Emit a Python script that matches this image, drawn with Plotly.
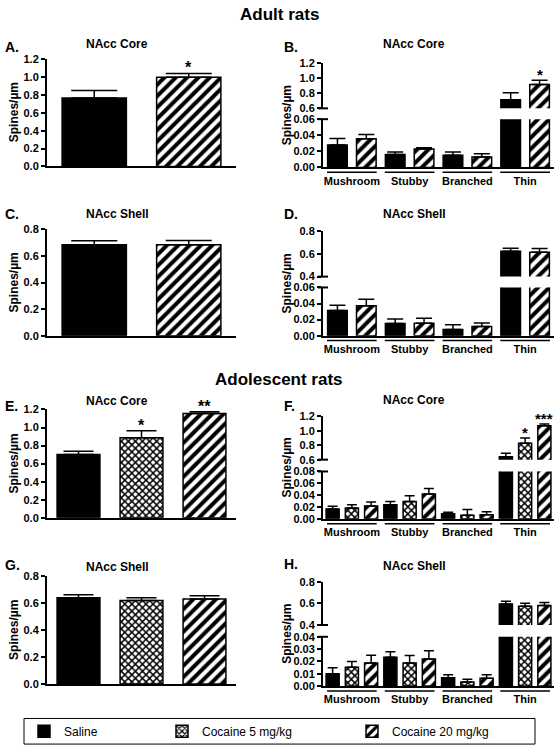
import plotly.graph_objects as go

# ---------------- data ----------------
spine_types = ["Mushroom", "Stubby", "Branched", "Thin"]
adult_groups = ["Saline", "Cocaine 20 mg/kg"]
adol_groups = ["Saline", "Cocaine 5 mg/kg", "Cocaine 20 mg/kg"]

# A. Adult NAcc Core (total)
A_mean = [0.765, 0.998]
A_sem = [0.085, 0.042]
A_sig = ["", "*"]
# C. Adult NAcc Shell (total)
C_mean = [0.685, 0.684]
C_sem = [0.030, 0.033]
C_sig = ["", ""]
# E. Adolescent NAcc Core (total)
E_mean = [0.702, 0.887, 1.155]
E_sem = [0.036, 0.077, 0.020]
E_sig = ["", "*", "**"]
# G. Adolescent NAcc Shell (total)
G_mean = [0.638, 0.617, 0.628]
G_sem = [0.022, 0.020, 0.025]
G_sig = ["", "", ""]

# B. Adult NAcc Core by spine type
B_saline = [0.028, 0.016, 0.015, 0.714]
B_saline_sem = [0.008, 0.003, 0.004, 0.092]
B_coc20 = [0.0355, 0.0229, 0.013, 0.915]
B_coc20_sem = [0.0055, 0.0016, 0.004, 0.057]
B_sig = {"Cocaine 20 mg/kg": ["", "", "", "*"]}
# D. Adult NAcc Shell by spine type
D_saline = [0.0314, 0.0151, 0.0078, 0.625]
D_saline_sem = [0.0066, 0.0057, 0.0057, 0.026]
D_coc20 = [0.0371, 0.0155, 0.0114, 0.616]
D_coc20_sem = [0.0082, 0.0061, 0.0045, 0.032]
# F. Adolescent NAcc Core by spine type
F_saline = [0.0166, 0.0237, 0.0083, 0.642]
F_saline_sem = [0.0044, 0.0053, 0.0027, 0.046]
F_coc5 = [0.018, 0.029, 0.006, 0.826]
F_coc5_sem = [0.0057, 0.010, 0.0094, 0.074]
F_coc20 = [0.0215, 0.0419, 0.0066, 1.071]
F_coc20_sem = [0.0066, 0.0091, 0.005, 0.023]
F_sig = {"Cocaine 5 mg/kg": ["", "", "", "*"], "Cocaine 20 mg/kg": ["", "", "", "***"]}
# H. Adolescent NAcc Shell by spine type
H_saline = [0.0099, 0.0234, 0.0067, 0.595]
H_saline_sem = [0.0049, 0.0045, 0.0024, 0.025]
H_coc5 = [0.0153, 0.0188, 0.0032, 0.574]
H_coc5_sem = [0.0047, 0.0059, 0.0022, 0.027]
H_coc20 = [0.0188, 0.022, 0.0064, 0.580]
H_coc20_sem = [0.0062, 0.0067, 0.0027, 0.027]

# tick labels
total_core_ticks = [0.0, 0.2, 0.4, 0.6, 0.8, 1.0, 1.2]
total_shell_ticks = [0.0, 0.2, 0.4, 0.6, 0.8]
B_low_ticks = [0.00, 0.02, 0.04, 0.06]
B_up_ticks = [0.6, 0.8, 1.0, 1.2]
D_low_ticks = [0.00, 0.02, 0.04, 0.06]
D_up_ticks = [0.4, 0.6, 0.8]
F_low_ticks = [0.00, 0.02, 0.04, 0.06, 0.08]
F_up_ticks = [0.6, 0.8, 1.0, 1.2]
H_low_ticks = [0.00, 0.01, 0.02, 0.03, 0.04]
H_up_ticks = [0.4, 0.6, 0.8]

# ---------------- style ----------------
W, H = 558, 754
FONT = "Liberation Sans, Arial, Helvetica, sans-serif"
TICKFONT = dict(family=FONT, size=11, color="black", weight="bold")


def px(x):
    return x / W


def py(y):
    return 1 - y / H


STYLE = {
    "Saline": dict(color="black", line=dict(color="black", width=1.5)),
    "Cocaine 5 mg/kg": dict(color="white", line=dict(color="black", width=1.5),
                            pattern=dict(shape="x", fillmode="replace", fgcolor="black",
                                         bgcolor="white", size=5, solidity=0.5)),
    "Cocaine 20 mg/kg": dict(color="white", line=dict(color="black", width=1.5),
                             pattern=dict(shape="/", fillmode="replace", fgcolor="black",
                                          bgcolor="white", size=8, solidity=0.5)),
}
LEGEND_OF = {"Saline": "legend", "Cocaine 5 mg/kg": "legend2", "Cocaine 20 mg/kg": "legend3"}

fig = go.Figure()
layout_axes = {}
annotations = []
shapes = []


def axkey(letter, n):
    return f"{letter}axis" + ("" if n == 1 else str(n))


def ref(letter, n):
    return letter + ("" if n == 1 else str(n))


def yaxis_dict(dom_top, dom_bot, ticks, fmt, xa):
    return dict(domain=[py(dom_bot), py(dom_top)], anchor=xa, range=[ticks[0], ticks[-1]],
                tickvals=ticks, tickformat=fmt, showline=True, linewidth=2, linecolor="black",
                ticks="outside", ticklen=4, tickwidth=2, tickcolor="black", showgrid=False,
                zeroline=False, tickfont=TICKFONT, fixedrange=True)


def single_panel(xn, yn, groups, means, sems, sig, top, bot, ticks, cap):
    xa, ya = ref("x", xn), ref("y", yn)
    for g, m, s, st in zip(groups, means, sems, sig):
        fig.add_trace(go.Bar(
            x=[g], y=[m], xaxis=xa, yaxis=ya, offsetgroup="one", name=g, showlegend=False,
            marker=STYLE[g],
            error_y=dict(type="data", array=[s], arrayminus=[0], symmetric=False,
                         color="black", thickness=1.5, width=cap)))
        if st:
            annotations.append(dict(x=g, y=m + s, xref=xa, yref=ya, text=st, showarrow=False,
                                    yanchor="bottom", yshift=-5,
                                    font=dict(family=FONT, size=16, color="black", weight="bold")))
    layout_axes[axkey("x", xn)] = dict(
        domain=[px(47), px(236)], anchor=ya, showline=True, linewidth=2, linecolor="black",
        showticklabels=False, ticks="", showgrid=False, zeroline=False,
        range=[-0.5, len(groups) - 0.5], categoryorder="array", categoryarray=groups,
        fixedrange=True)
    layout_axes[axkey("y", yn)] = yaxis_dict(top, bot, ticks, ".1f", xa)


def broken_panel(xn, yl, yu, series, sig, up_top, up_bot, low_top, low_bot,
                 up_ticks, low_ticks, low_fmt, cap, legend=False):
    xa = ref("x", xn)
    yla, yua = ref("y", yl), ref("y", yu)
    n = len(series)
    for k, (g, vals, sems) in enumerate(series):
        for yax, show in ((yla, legend), (yua, False)):
            fig.add_trace(go.Bar(
                x=spine_types, y=vals, xaxis=xa, yaxis=yax, offsetgroup=g, name=g,
                showlegend=show, legend=LEGEND_OF[g], marker=STYLE[g],
                error_y=dict(type="data", array=sems, arrayminus=[0] * len(vals),
                             symmetric=False, color="black", thickness=1.5, width=cap)))
        if g in sig:
            off = -0.5 + (k + 0.5) / n
            for i, st in enumerate(sig[g]):
                if st:
                    annotations.append(dict(
                        x=i + off, y=vals[i] + sems[i], xref=xa, yref=yua, text=st,
                        showarrow=False, yanchor="bottom", yshift=-5,
                        font=dict(family=FONT, size=15, color="black", weight="bold")))
    layout_axes[axkey("x", xn)] = dict(
        domain=[px(323), px(554)], anchor=yla, showline=True, linewidth=2, linecolor="black",
        ticks="", showgrid=False, zeroline=False, range=[-0.5, len(spine_types) - 0.5],
        tickfont=TICKFONT, ticklabelstandoff=2, fixedrange=True)
    layout_axes[axkey("y", yl)] = yaxis_dict(low_top, low_bot, low_ticks, low_fmt, xa)
    layout_axes[axkey("y", yu)] = yaxis_dict(up_top, up_bot, up_ticks, ".1f", xa)
    # group underlines below each spine type
    for i, _ in enumerate(spine_types):
        shapes.append(dict(type="line", xref=xa, yref="paper", x0=i - 0.43, x1=i + 0.43,
                           y0=py(low_bot + 5), y1=py(low_bot + 5),
                           line=dict(color="black", width=1.5)))
    # axis-break marks
    for yb in (up_bot, low_top):
        shapes.append(dict(type="line", xref="paper", yref="paper", x0=px(318), x1=px(328),
                           y0=py(yb), y1=py(yb), line=dict(color="black", width=2)))


# ---------------- panels ----------------
single_panel(1, 1, adult_groups, A_mean, A_sem, A_sig, 54, 163, total_core_ticks, 23)
broken_panel(2, 2, 3,
             [("Saline", B_saline, B_saline_sem), ("Cocaine 20 mg/kg", B_coc20, B_coc20_sem)],
             B_sig, 58, 104, 115, 164, B_up_ticks, B_low_ticks, ".2f", 8)
single_panel(3, 4, adult_groups, C_mean, C_sem, C_sig, 227, 335, total_shell_ticks, 23)
broken_panel(4, 5, 6,
             [("Saline", D_saline, D_saline_sem), ("Cocaine 20 mg/kg", D_coc20, D_coc20_sem)],
             {}, 229, 275, 286, 335, D_up_ticks, D_low_ticks, ".2f", 8)
single_panel(5, 7, adol_groups, E_mean, E_sem, E_sig, 410, 520, total_core_ticks, 15)
broken_panel(6, 8, 9,
             [("Saline", F_saline, F_saline_sem), ("Cocaine 5 mg/kg", F_coc5, F_coc5_sem),
              ("Cocaine 20 mg/kg", F_coc20, F_coc20_sem)],
             F_sig, 417, 461, 473, 521, F_up_ticks, F_low_ticks, ".2f", 5, legend=True)
single_panel(7, 10, adol_groups, G_mean, G_sem, G_sig, 579, 689, total_shell_ticks, 15)
broken_panel(8, 11, 12,
             [("Saline", H_saline, H_saline_sem), ("Cocaine 5 mg/kg", H_coc5, H_coc5_sem),
              ("Cocaine 20 mg/kg", H_coc20, H_coc20_sem)],
             {}, 585, 629, 641, 691, H_up_ticks, H_low_ticks, ".2f", 5)

# ---------------- text ----------------
def text(x, y, s, size, bold=True, angle=0, xanchor="center"):
    annotations.append(dict(x=px(x), y=py(y), xref="paper", yref="paper", text=s,
                            showarrow=False, xanchor=xanchor, yanchor="middle", textangle=angle,
                            font=dict(family=FONT, size=size, color="black",
                                      weight="bold" if bold else "normal")))


text(279, 9, "Adult rats", 17)
text(279, 380, "Adolescent rats", 17)

for letter, x, y in [("A.", 3, 42), ("B.", 282, 42), ("C.", 3, 211), ("D.", 282, 211),
                     ("E.", 3, 406), ("F.", 282, 406), ("G.", 3, 568), ("H.", 282, 567)]:
    text(x, y, letter, 14, xanchor="left")

for t, x, y in [("NAcc Core", 117, 39), ("NAcc Core", 414, 39), ("NAcc Shell", 117, 211),
                ("NAcc Shell", 414, 211), ("NAcc Core", 117, 401), ("NAcc Core", 414, 400),
                ("NAcc Shell", 117, 570), ("NAcc Shell", 414, 569)]:
    text(x, y, t, 12)

for x, y in [(14, 108), (287, 111), (14, 281), (287, 282), (14, 465), (287, 469),
             (14, 634), (287, 638)]:
    text(x, y, "Spines/µm", 12, angle=-90)

# legend box
shapes.append(dict(type="rect", xref="paper", yref="paper", x0=px(24), x1=px(535),
                   y0=py(750), y1=py(724), line=dict(color="black", width=1)))

legend_common = dict(yanchor="middle", xanchor="left", y=py(737), bgcolor="rgba(0,0,0,0)",
                     borderwidth=0, orientation="h",
                     font=dict(family=FONT, size=12, color="black"))

fig.update_layout(
    width=W, height=H, margin=dict(l=0, r=0, t=0, b=0),
    paper_bgcolor="white", plot_bgcolor="white",
    barmode="group", bargap=0, bargroupgap=0.32,
    annotations=annotations, shapes=shapes,
    legend=dict(x=px(24), **legend_common),
    legend2=dict(x=px(162), **legend_common),
    legend3=dict(x=px(352), **legend_common),
    **layout_axes,
)

fig.write_html(
    "out.html",
    config={"displayModeBar": False},
    post_script="document.body.style.margin='0';document.body.style.padding='0';"
                "document.documentElement.style.overflow='hidden';",
)
